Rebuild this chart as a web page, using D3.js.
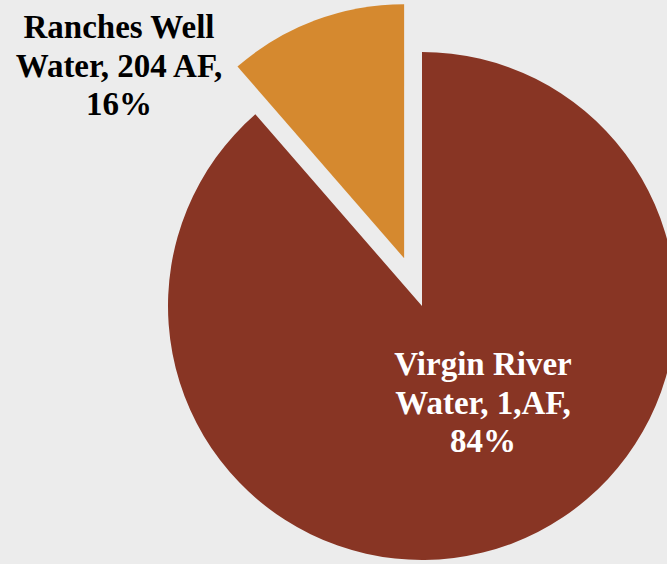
<!DOCTYPE html>
<html>
<head>
<meta charset="utf-8">
<script src="https://cdn.jsdelivr.net/npm/d3@7/dist/d3.min.js"></script>
<style>
  html, body { margin: 0; padding: 0; background: #ececec; }
  svg { display: block; }
</style>
</head>
<body>
<script>
// Data
const categories = ["Virgin River Water", "Ranches Well Water"];
const values = [1587, 204];
const labelLines = [
  ["Virgin River", "Water, 1,AF,", "84%"],
  ["Ranches Well", "Water, 204 AF,", "16%"]
];
const colors = ["#883524", "#d5892f"];

const W = 667, H = 564;
const cx = 422, cy = 306, R = 254, explode = 51;

const svg = d3.select("body").append("svg").attr("width", W).attr("height", H);
svg.append("rect").attr("width", W).attr("height", H).attr("fill", "#ececec");

const pie = d3.pie().sort(null).value(d => d.value);
const arcs = pie(categories.map((c, i) => ({ name: c, value: values[i], lines: labelLines[i], color: colors[i] })));
const arc = d3.arc().innerRadius(0).outerRadius(R);

const g = svg.append("g").attr("transform", `translate(${cx},${cy})`);

g.selectAll("path").data(arcs).join("path")
  .attr("d", arc)
  .attr("fill", d => d.data.color)
  .attr("transform", d => {
    if (d.index !== 1) return null;
    const a = (d.startAngle + d.endAngle) / 2;
    return `translate(${Math.sin(a) * explode},${-Math.cos(a) * explode})`;
  });

// Labels (positions relative to the svg)
const labelPos = [
  { x: 483, y: 375, fill: "#ffffff" },
  { x: 119, y: 38, fill: "#000000" }
];
const lineH = 38.7;
arcs.forEach((d, i) => {
  const t = svg.append("text")
    .attr("x", labelPos[i].x).attr("y", labelPos[i].y)
    .attr("text-anchor", "middle")
    .attr("font-family", "'Liberation Serif', 'DejaVu Serif', serif")
    .attr("font-weight", "bold")
    .attr("font-size", 33)
    .attr("fill", labelPos[i].fill);
  d.data.lines.forEach((ln, j) => {
    t.append("tspan").attr("x", labelPos[i].x).attr("dy", j === 0 ? 0 : lineH).text(ln);
  });
});
</script>
</body>
</html>
